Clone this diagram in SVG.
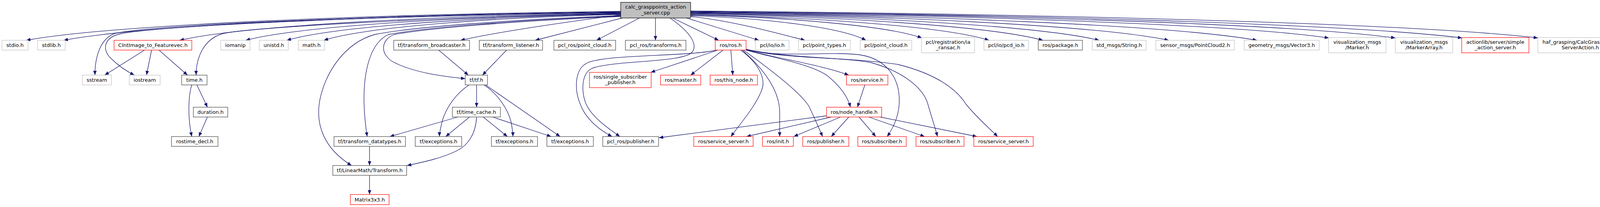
<svg xmlns="http://www.w3.org/2000/svg" width="4159" height="529" viewBox="0 0 4159 529" font-family="DejaVu Sans, sans-serif">
<style>
rect{fill:#fff;stroke-width:1.2}
.g{stroke:#bfbfbf}
.k{stroke:#404040}
.r{stroke:#ff0000}
.m{fill:#bfbfbf;stroke:#000}
text{font-family:"DejaVu Sans","Liberation Sans",sans-serif;font-size:13px;text-anchor:middle;fill:#000}
#edges path{fill:none;stroke:#191970;stroke-width:1.3;marker-end:url(#a)}
</style>
<defs>
<marker id="a" markerWidth="11" markerHeight="9" refX="11" refY="4.5" orient="auto" markerUnits="userSpaceOnUse"><path d="M0,0 L11,4.5 L0,9 z" fill="#191970"/></marker>
</defs>
<rect x="0" y="0" width="4159" height="529" style="fill:#fff;stroke:none"/>
<g id="edges">
<path d="M1589,29 C980,36 295,62 67,103"/>
<path d="M1589,30 C1019,37 377,62 163,103"/>
<path d="M1589,33 C1137,40 629,64 460,103"/>
<path d="M1589,35 C1205,42 773,65 629,103"/>
<path d="M1589,36 C1247,43 863,66 734,103"/>
<path d="M1589,37 C1285,44 943,67 829,103"/>
<path d="M1589,38 C1480,52 1280,80 1179,103"/>
<path d="M1593,46 L1370,103"/>
<path d="M1637,46 L1527,103"/>
<path d="M1678,46 L1678,103"/>
<path d="M1722,46 L1840,103"/>
<path d="M1757,46 L1943,103"/>
<path d="M1768,42 C1885,55 1990,85 2061,103"/>
<path d="M1768,40 C1948,46 2150,68 2217,103"/>
<path d="M1768,38 C2005,44 2271,65 2360,97"/>
<path d="M1768,37 C2074,44 2417,67 2532,103"/>
<path d="M1768,35 C2129,42 2535,66 2670,103"/>
<path d="M1768,34 C2186,41 2657,65 2814,103"/>
<path d="M1768,33 C2258,40 2808,64 2992,103"/>
<path d="M1768,32 C2348,39 3000,64 3218,103"/>
<path d="M1768,31 C2422,38 3157,61 3402,97"/>
<path d="M1768,30 C2490,37 3301,60 3572,97"/>
<path d="M1768,29 C2558,36 3447,60 3743,97"/>
<path d="M1768,28 C2636,35 3612,59 3937,97"/>
<path d="M1589,31 C1000,38 420,62 300,84 C255,94 243,150 243,192"/>
<path d="M1589,32 C1000,40 430,64 310,86 C262,96 262,130 285,150 C305,170 328,184 344,192"/>
<path d="M1589,34 C1100,45 640,70 570,86 C520,100 502,150 502,192"/>
<path d="M1589,40 C1300,50 1050,70 960,88 C880,110 830,190 818,260 C808,320 830,380 900,423"/>
<path d="M1589,41 C1300,52 1080,72 995,88 C945,110 930,190 932,265 C933,300 937,330 940,349"/>
<path d="M1589,42 C1300,55 1100,72 1010,88 C975,100 970,140 1010,160 C1060,185 1130,195 1191,201"/>
<path d="M1835,128 C1760,145 1560,138 1505,160 C1470,175 1470,230 1485,265 C1497,300 1530,330 1567,349"/>
<path d="M1715,46 C1765,80 1790,115 1770,135 C1745,160 1560,155 1515,175 C1485,190 1490,240 1500,265 C1515,300 1560,330 1587,349"/>
<path d="M1838,128 L1666,185"/>
<path d="M1851,128 L1768,192"/>
<path d="M1871,128 L1876,192"/>
<path d="M1896,128 C1940,160 1962,200 1950,230 C1935,270 1900,310 1871,349"/>
<path d="M1900,128 C1965,185 1997,240 1996,290 L1996,349"/>
<path d="M1903,128 C1990,190 2050,240 2070,270 C2085,300 2095,325 2106,349"/>
<path d="M1910,127 C1990,150 2100,165 2173,192"/>
<path d="M1910,128 C1990,150 2080,165 2120,195 C2150,220 2170,245 2177,274"/>
<path d="M1908,125 C1990,150 2120,130 2200,140 C2270,150 2305,200 2302,265 C2300,300 2285,330 2271,349"/>
<path d="M1909,126 C2000,150 2150,145 2230,160 C2320,185 2365,230 2375,265 C2385,300 2395,330 2400,349"/>
<path d="M1910,126 C2020,150 2200,148 2300,165 C2400,190 2450,230 2472,265 C2500,300 2530,325 2554,349"/>
<path d="M2214,217 L2195,274"/>
<path d="M2116,296 L1687,352"/>
<path d="M2128,299 L1911,349"/>
<path d="M2152,299 L2032,349"/>
<path d="M2173,299 L2128,349"/>
<path d="M2199,299 L2242,349"/>
<path d="M2224,299 L2367,349"/>
<path d="M2253,299 L2501,349"/>
<path d="M370,128 L268,192"/>
<path d="M388,128 L375,192"/>
<path d="M407,128 L480,192"/>
<path d="M491,217 C482,245 480,300 491,349"/>
<path d="M504,217 L531,274"/>
<path d="M531,299 L509,349"/>
<path d="M1123,128 L1199,192"/>
<path d="M1297,128 L1235,192"/>
<path d="M1220,217 L1220,274"/>
<path d="M1201,217 C1165,240 1140,280 1132,310 C1127,330 1125,340 1125,349"/>
<path d="M1239,217 C1275,240 1300,280 1308,310 C1312,330 1313,340 1313,349"/>
<path d="M1243,217 L1434,349"/>
<path d="M1172,299 L998,349"/>
<path d="M1202,299 L1141,349"/>
<path d="M1237,299 L1299,349"/>
<path d="M1261,299 L1411,349"/>
<path d="M1220,299 C1218,340 1200,370 1170,385 C1130,405 1080,415 1042,423"/>
<path d="M946,374 L946,423"/>
<path d="M946,448 L946,497"/>
</g>
<g id="n_main"><rect class="m" x="1589" y="6" width="179" height="40"/><text x="1678.5" y="22">calc_grasppoints_action</text><text x="1678.5" y="36.5">_server.cpp</text></g>
<g id="n_stdio"><rect class="g" x="5" y="103" width="67" height="25"/><text x="38.5" y="120">stdio.h</text></g>
<g id="n_stdlib"><rect class="g" x="96" y="103" width="71" height="25"/><text x="131.5" y="120">stdlib.h</text></g>
<g id="n_cint"><rect class="r" x="292" y="103" width="199" height="25"/><text x="391.5" y="120">CIntImage_to_Featurevec.h</text></g>
<g id="n_iomanip"><rect class="g" x="565" y="103" width="75" height="25"/><text x="602.5" y="120">iomanip</text></g>
<g id="n_unistd"><rect class="g" x="664" y="103" width="74" height="25"/><text x="701" y="120">unistd.h</text></g>
<g id="n_math"><rect class="g" x="764" y="103" width="67" height="25"/><text x="797.5" y="120">math.h</text></g>
<g id="n_tfbc"><rect class="k" x="1008" y="103" width="194" height="25"/><text x="1105" y="120">tf/transform_broadcaster.h</text></g>
<g id="n_tfls"><rect class="k" x="1227" y="103" width="162" height="25"/><text x="1308" y="120">tf/transform_listener.h</text></g>
<g id="n_pclrospc"><rect class="k" x="1418" y="103" width="158" height="25"/><text x="1497" y="120">pcl_ros/point_cloud.h</text></g>
<g id="n_pclrostf"><rect class="k" x="1601" y="103" width="155" height="25"/><text x="1678.5" y="120">pcl_ros/transforms.h</text></g>
<g id="n_rosros"><rect class="r" x="1831" y="103" width="79" height="25"/><text x="1870.5" y="120">ros/ros.h</text></g>
<g id="n_pclio"><rect class="g" x="1934" y="103" width="86" height="25"/><text x="1977" y="120">pcl/io/io.h</text></g>
<g id="n_pclpt"><rect class="g" x="2044" y="103" width="133" height="25"/><text x="2110.5" y="120">pcl/point_types.h</text></g>
<g id="n_pclpc"><rect class="g" x="2202" y="103" width="132" height="25"/><text x="2268" y="120">pcl/point_cloud.h</text></g>
<g id="n_ransac"><rect class="g" x="2359" y="96" width="136" height="39"/><text x="2427" y="111.5">pcl/registration/ia</text><text x="2427" y="126">_ransac.h</text></g>
<g id="n_pcd"><rect class="g" x="2519" y="103" width="114" height="25"/><text x="2576" y="120">pcl/io/pcd_io.h</text></g>
<g id="n_pkg"><rect class="k" x="2658" y="103" width="113" height="25"/><text x="2714.5" y="120">ros/package.h</text></g>
<g id="n_str"><rect class="g" x="2796" y="103" width="138" height="25"/><text x="2865" y="120">std_msgs/String.h</text></g>
<g id="n_pc2"><rect class="g" x="2959" y="103" width="201" height="25"/><text x="3059.5" y="120">sensor_msgs/PointCloud2.h</text></g>
<g id="n_v3"><rect class="g" x="3185" y="103" width="192" height="25"/><text x="3281" y="120">geometry_msgs/Vector3.h</text></g>
<g id="n_marker"><rect class="g" x="3401" y="96" width="147" height="39"/><text x="3474.5" y="111.5">visualization_msgs</text><text x="3474.5" y="126">/Marker.h</text></g>
<g id="n_markerarr"><rect class="g" x="3572" y="96" width="147" height="39"/><text x="3645.5" y="111.5">visualization_msgs</text><text x="3645.5" y="126">/MarkerArray.h</text></g>
<g id="n_sas"><rect class="r" x="3742" y="96" width="172" height="39"/><text x="3828" y="111.5">actionlib/server/simple</text><text x="3828" y="126">_action_server.h</text></g>
<g id="n_haf"><rect class="g" x="3937" y="96" width="217" height="39"/><text x="4045.5" y="111.5">haf_grasping/CalcGraspPoints</text><text x="4045.5" y="126">ServerAction.h</text></g>
<g id="n_sstream"><rect class="g" x="211" y="192" width="74" height="25"/><text x="248" y="209">sstream</text></g>
<g id="n_iostream"><rect class="g" x="331" y="192" width="79" height="25"/><text x="370.5" y="209">iostream</text></g>
<g id="n_time"><rect class="k" x="465" y="192" width="65" height="25"/><text x="497.5" y="209">time.h</text></g>
<g id="n_tf"><rect class="k" x="1191" y="192" width="57" height="25"/><text x="1219.5" y="209">tf/tf.h</text></g>
<g id="n_ssp"><rect class="r" x="1509" y="185" width="158" height="39"/><text x="1588" y="200.5">ros/single_subscriber</text><text x="1588" y="215">_publisher.h</text></g>
<g id="n_master"><rect class="r" x="1691" y="192" width="103" height="25"/><text x="1742.5" y="209">ros/master.h</text></g>
<g id="n_thisnode"><rect class="r" x="1818" y="192" width="121" height="25"/><text x="1878.5" y="209">ros/this_node.h</text></g>
<g id="n_service"><rect class="r" x="2167" y="192" width="106" height="25"/><text x="2220" y="209">ros/service.h</text></g>
<g id="n_duration"><rect class="k" x="495" y="274" width="88" height="25"/><text x="539" y="291">duration.h</text></g>
<g id="n_timecache"><rect class="k" x="1158" y="274" width="123" height="25"/><text x="1219.5" y="291">tf/time_cache.h</text></g>
<g id="n_nh"><rect class="r" x="2116" y="274" width="141" height="25"/><text x="2186.5" y="291">ros/node_handle.h</text></g>
<g id="n_rostime"><rect class="k" x="439" y="349" width="119" height="25"/><text x="498.5" y="366">rostime_decl.h</text></g>
<g id="n_tfdt"><rect class="k" x="855" y="349" width="183" height="25"/><text x="946.5" y="366">tf/transform_datatypes.h</text></g>
<g id="n_exc1"><rect class="k" x="1063" y="349" width="119" height="25"/><text x="1122.5" y="366">tf/exceptions.h</text></g>
<g id="n_exc2"><rect class="k" x="1258" y="349" width="118" height="25"/><text x="1317" y="366">tf/exceptions.h</text></g>
<g id="n_exc3"><rect class="k" x="1400" y="349" width="119" height="25"/><text x="1459.5" y="366">tf/exceptions.h</text></g>
<g id="n_pclpub"><rect class="k" x="1543" y="349" width="143" height="25"/><text x="1614.5" y="366">pcl_ros/publisher.h</text></g>
<g id="n_ss1"><rect class="r" x="1776" y="349" width="152" height="25"/><text x="1852" y="366">ros/service_server.h</text></g>
<g id="n_init"><rect class="r" x="1952" y="349" width="79" height="25"/><text x="1991.5" y="366">ros/init.h</text></g>
<g id="n_rospub"><rect class="r" x="2055" y="349" width="118" height="25"/><text x="2114" y="366">ros/publisher.h</text></g>
<g id="n_sub1"><rect class="r" x="2196" y="349" width="124" height="25"/><text x="2258" y="366">ros/subscriber.h</text></g>
<g id="n_sub2"><rect class="r" x="2345" y="349" width="123" height="25"/><text x="2406.5" y="366">ros/subscriber.h</text></g>
<g id="n_ss2"><rect class="r" x="2493" y="349" width="152" height="25"/><text x="2569" y="366">ros/service_server.h</text></g>
<g id="n_lmt"><rect class="k" x="852" y="423" width="189" height="25"/><text x="946.5" y="440">tf/LinearMath/Transform.h</text></g>
<g id="n_m33"><rect class="r" x="897" y="497" width="99" height="26"/><text x="946.5" y="514.5">Matrix3x3.h</text></g>
</svg>
